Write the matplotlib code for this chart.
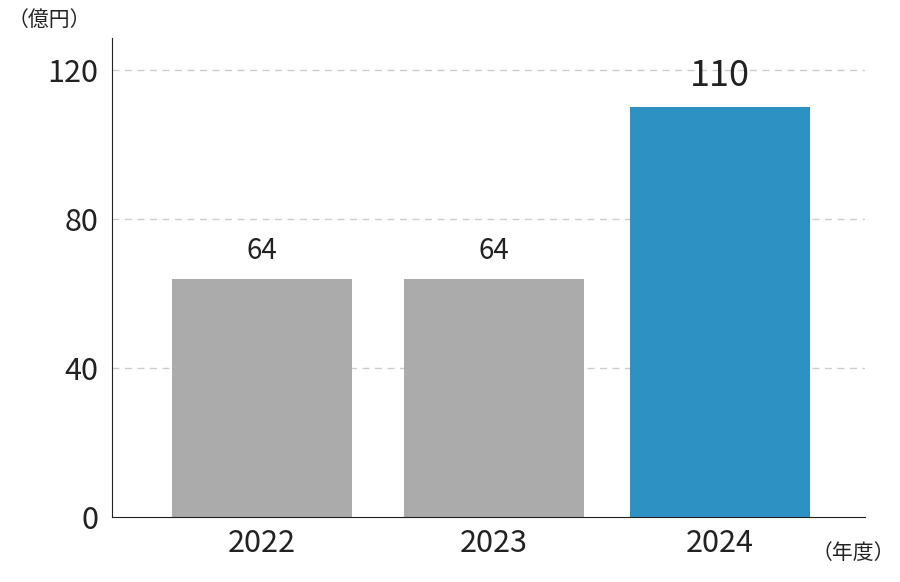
import matplotlib
matplotlib.use("Agg")
import matplotlib.pyplot as plt

years = ["2022", "2023", "2024"]
values = [64, 64, 110]
colors = ["#ababab", "#ababab", "#2e91c3"]
yticks = [0, 40, 80, 120]

plt.rcParams["font.family"] = "Noto Sans CJK JP"
fig = plt.figure(figsize=(9, 5.82), dpi=100)
ax = fig.add_axes([112/900, 1-517/582, (865-112)/900, (517-38)/582])
pos = [0, 1.013, 2.0]
ax.bar(pos, values, width=0.786, color=colors, zorder=2)
ax.set_xlim(-0.655, 2.633)
ax.set_ylim(0, 128.6)
ax.set_yticks(yticks)
ax.set_xticks(pos)
ax.set_xticklabels(years)
for g in yticks[1:]:
    ax.axhline(g, color="#cccccc", lw=1, ls=(0, (5, 4)), zorder=1)
for i, (p, v) in enumerate(zip(pos, values)):
    ax.text(p, v + 3.5, str(v), ha="center", va="bottom",
            fontsize=26 if i == 2 else 20, color="#222222")
for s in ["top", "right"]:
    ax.spines[s].set_visible(False)
ax.spines["left"].set_color("#222222")
ax.spines["bottom"].set_color("#222222")
ax.tick_params(axis="y", length=0, labelsize=22, pad=10, labelcolor="#222222")
ax.tick_params(axis="x", length=0, labelsize=22, pad=8, labelcolor="#222222")
fig.text(8/900, 1-20/582, "（億円）", fontsize=15, va="center", ha="left", color="#222222")
fig.text(812/900, 1-553/582, "（年度）", fontsize=15, va="center", ha="left", color="#222222")
fig.savefig("out.png", dpi=100)
